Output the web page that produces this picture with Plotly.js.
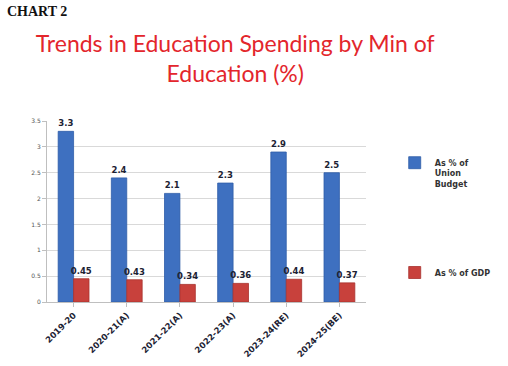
<!DOCTYPE html>
<html>
<head>
<meta charset="utf-8">
<script src="https://cdn.plot.ly/plotly-3.0.1.min.js"></script>
<style>html,body{margin:0;padding:0;background:#fff;}#chart{width:508px;height:366px;}</style>
</head>
<body>
<div id="chart"></div>
<script>
const categories = ["2019-20", "2020-21(A)", "2021-22(A)", "2022-23(A)", "2023-24(RE)", "2024-25(BE)"];
const budgetShare = [3.3, 2.4, 2.1, 2.3, 2.9, 2.5];
const gdpShare = [0.45, 0.43, 0.34, 0.36, 0.44, 0.37];
const budgetLabels = ["3.3", "2.4", "2.1", "2.3", "2.9", "2.5"];
const gdpLabels = ["0.45", "0.43", "0.34", "0.36", "0.44", "0.37"];
const yTicks = [0, 0.5, 1, 1.5, 2, 2.5, 3, 3.5];
const yTickText = ["0", "0.5", "1", "1.5", "2", "2.5", "3", "3.5"];

const labelFont = {family: "DejaVu Sans", size: 8.5, color: "#1c2233", weight: "bold"};

const traces = [
  {
    type: "bar", name: "As % of<br>Union<br>Budget", x: categories, y: budgetShare,
    text: budgetLabels, textposition: "outside", textfont: labelFont, cliponaxis: false,
    constraintext: "none",
    marker: {color: "#3e70c0", line: {color: "#2f5da8", width: 0.8}},
    legend: "legend", hoverinfo: "x+y"
  },
  {
    type: "bar", name: "As % of GDP", x: categories, y: gdpShare,
    text: gdpLabels, textposition: "outside", textfont: labelFont, cliponaxis: false,
    constraintext: "none",
    marker: {color: "#c8413c", line: {color: "#a8322e", width: 0.8}},
    legend: "legend2", hoverinfo: "x+y"
  }
];

const layout = {
  width: 508, height: 366,
  paper_bgcolor: "#ffffff", plot_bgcolor: "#ffffff",
  margin: {l: 47, r: 137, t: 121, b: 64},
  barmode: "group", bargap: 0.42, bargroupgap: 0,
  title: {
    text: "Trends in Education Spending by Min of<br>Education (%)",
    font: {family: "Lato", size: 23, color: "#e3262c"},
    xref: "container", yref: "container", x: 0.463, xanchor: "center",
    y: 1 - 52/366, yanchor: "top"
  },
  xaxis: {
    type: "category", tickangle: -45,
    tickfont: {family: "DejaVu Sans", size: 8.5, color: "#1c2233", weight: "bold"},
    showline: true, linecolor: "#bfbfbf", linewidth: 1,
    ticks: "outside", ticklen: 4, tickcolor: "#bfbfbf",
    showgrid: false, fixedrange: true
  },
  yaxis: {
    range: [0, 3.5], tickvals: yTicks, ticktext: yTickText,
    tickfont: {family: "DejaVu Sans", size: 6, color: "#555"},
    showline: true, linecolor: "#bfbfbf", linewidth: 1,
    ticks: "outside", ticklen: 4, tickcolor: "#bfbfbf",
    showgrid: true, gridcolor: "#d9d9d9", gridwidth: 1,
    zeroline: false, fixedrange: true
  },
  showlegend: true,
  legend: {
    x: 1.09, xanchor: "left", y: (366 - 151 - 64) / 181, yanchor: "top",
    font: {family: "DejaVu Sans", size: 8, color: "#333", weight: "bold"},
    bgcolor: "rgba(0,0,0,0)", itemwidth: 30, valign: "top"
  },
  legend2: {
    x: 1.09, xanchor: "left", y: (366 - 258 - 64) / 181, yanchor: "top",
    font: {family: "DejaVu Sans", size: 8, color: "#333", weight: "bold"},
    bgcolor: "rgba(0,0,0,0)", itemwidth: 30
  },
  annotations: [
    {
      text: "<b>CHART 2</b>", xref: "paper", yref: "paper",
      x: (4 - 47)/324, xanchor: "left", y: 1 + (121 - 2)/181, yanchor: "top",
      showarrow: false, font: {family: "Liberation Serif", size: 14, color: "#111"}
    }
  ]
};

Plotly.newPlot("chart", traces, layout, {displayModeBar: false, staticPlot: true});
</script>
</body>
</html>
